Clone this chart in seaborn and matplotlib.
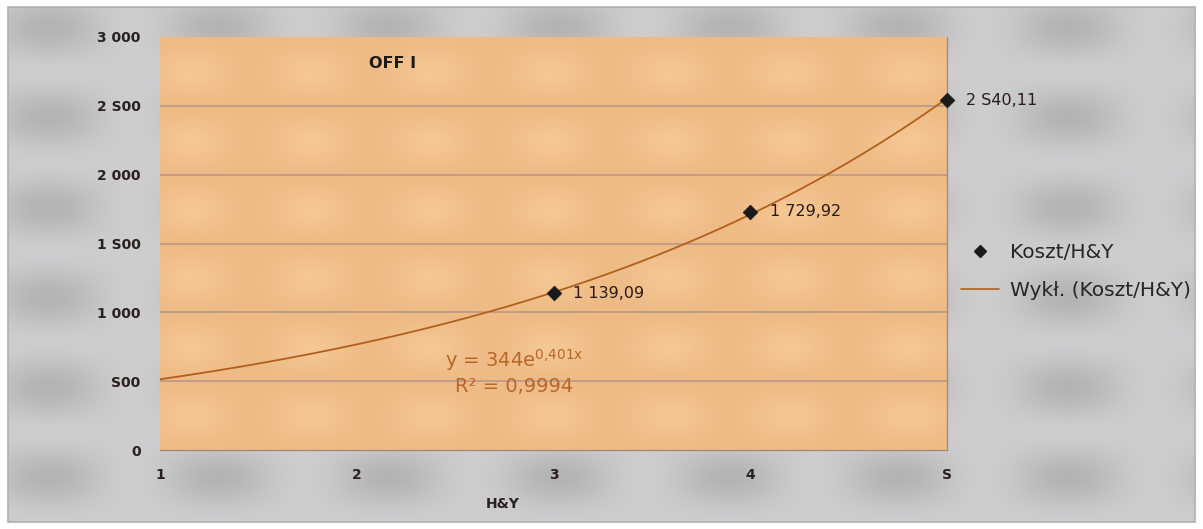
import numpy as np
import pandas as pd
import matplotlib
matplotlib.use("Agg")
import matplotlib.pyplot as plt
from matplotlib.lines import Line2D
import seaborn as sns

# Measured cost per H&Y stage
stages = [3, 4, 5]
costs = [1139.09, 1729.92, 2540.11]
point_labels = ["1 139,09", "1 729,92", "2 S40,11"]

# Exponential trend fitted to the costs: y = a * e^(b x)
trend_a = 344.0
trend_b = 0.401
trend_x = np.linspace(1, 5, 200)

y_ticks = [0, 500, 1000, 1500, 2000, 2500, 3000]
y_tick_labels = ["0", "S00", "1 000", "1 S00", "2 000", "2 S00", "3 000"]
x_ticks = [1, 2, 3, 4, 5]
x_tick_labels = ["1", "2", "3", "4", "S"]

sns.set_theme(style="white")
plt.rcParams["font.family"] = ["DejaVu Sans"]

W, H = 1203, 529
fig = plt.figure(figsize=(W / 100, H / 100), dpi=100)
fig.patch.set_facecolor("white")

# soft tiled backdrop of the chart frame
bg = fig.add_axes([8 / W, 7 / H, 1187 / W, 515 / H])
bg.set_axis_off()
gx, gy = np.meshgrid(np.arange(1187), np.arange(515))
tile = (0.5 + 0.5 * np.cos(2 * np.pi * (gx - 40) / 170)) * (0.5 + 0.5 * np.cos(2 * np.pi * (gy - 20) / 90))
gray = 0.805 - 0.10 * tile
bg.imshow(np.dstack([gray, gray, gray + 0.005]).clip(0, 1), aspect="auto", interpolation="bilinear")
fig.patches.append(plt.Rectangle((8 / W, 7 / H), 1187 / W, 515 / H, transform=fig.transFigure,
                                 fill=False, edgecolor="#b0b0b0", lw=1.2, zorder=5))

ax = fig.add_axes([160 / W, (H - 450) / H, 787 / W, 413 / H])
ax.set_xlim(1, 5)
ax.set_ylim(0, 3000)

# orange tiled plot area
px, py = np.meshgrid(np.linspace(0, 787, 400), np.linspace(0, 413, 200))
otile = (0.5 + 0.5 * np.cos(2 * np.pi * (px - 30) / 120)) * (0.5 + 0.5 * np.cos(2 * np.pi * (py - 35) / 69))
r = 0.935 + 0.025 * otile
g = 0.735 + 0.045 * otile
b = 0.525 + 0.055 * otile
ax.imshow(np.dstack([r, g, b]).clip(0, 1), extent=[1, 5, 0, 3000], aspect="auto",
          interpolation="bilinear", zorder=0)

for yv in y_ticks[1:-1]:
    ax.axhline(yv, color="#b89488", lw=1.1, zorder=1)

trend_df = pd.DataFrame({"H&Y": trend_x, "Koszt": trend_a * np.exp(trend_b * trend_x)})
sns.lineplot(data=trend_df, x="H&Y", y="Koszt", ax=ax, color="#b0601e", lw=1.3, zorder=3)

pts = pd.DataFrame({"H&Y": stages, "Koszt": costs})
sns.scatterplot(data=pts, x="H&Y", y="Koszt", ax=ax, marker="D", s=55, color="#1a1a1a",
                edgecolor="#1a1a1a", zorder=4, clip_on=False)

for xv, yv, lab in zip(stages, costs, point_labels):
    ax.annotate(lab, (xv, yv), xytext=(14, 0), textcoords="offset points", va="center",
                ha="left", fontsize=11.5, color="#2a1a1a", annotation_clip=False)

ax.set_xticks(x_ticks)
ax.set_xticklabels(x_tick_labels, fontsize=10, color="#2a2020", fontweight="bold")
ax.set_yticks(y_ticks)
ax.set_yticklabels(y_tick_labels, fontsize=10, color="#2a2020", fontweight="bold")
ax.tick_params(axis="x", length=4, pad=9, color="#a08070")
ax.tick_params(axis="y", length=0, pad=14)
ax.set_xlabel("H&Y", fontsize=10, fontweight="bold", color="#2a2020")
ax.xaxis.set_label_coords(0.435, -0.115)
ax.set_ylabel("")
for side, s in ax.spines.items():
    s.set_visible(side in ("bottom", "right"))
    s.set_color("#a08878")
    s.set_linewidth(0.9)

ax.text(0.295, 0.935, "OFF I", transform=ax.transAxes, fontsize=11.5, fontweight="bold",
        color="#1a1a1a", ha="center", va="center")
ax.text(0.45, 0.218, "y = 344e$\\mathregular{^{0{,}401x}}$", transform=ax.transAxes, fontsize=14,
        color="#b8672a", ha="center", va="center")
ax.text(0.45, 0.153, "R² = 0,9994", transform=ax.transAxes, fontsize=14,
        color="#b8672a", ha="center", va="center")

handles = [
    Line2D([], [], marker="D", ls="none", color="#1a1a1a", markersize=6),
    Line2D([], [], color="#b0601e", lw=1.2),
]
fig.legend(handles, ["Koszt/H&Y", "Wykł. (Koszt/H&Y)"], loc="upper left",
           bbox_to_anchor=(953 / W, 1 - 235 / H), frameon=False, fontsize=14.5,
           handlelength=1.9, handletextpad=0.55, labelspacing=0.95, borderaxespad=0)

fig.savefig("out.png", dpi=100)
